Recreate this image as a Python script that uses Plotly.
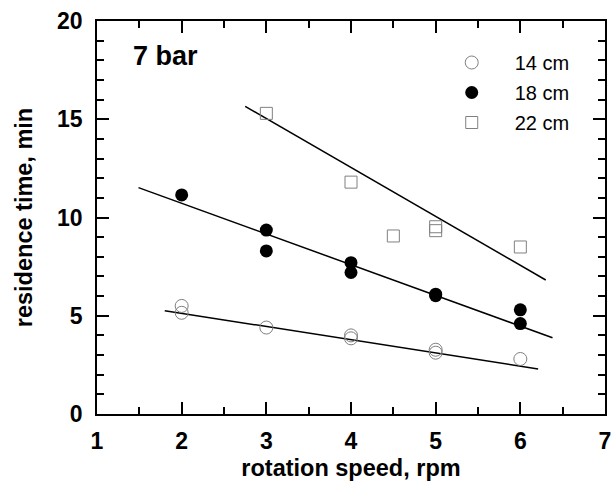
import plotly.graph_objects as go

# Data
x14 = [2, 2, 3, 4, 4, 5, 5, 6]
y14 = [5.5, 5.15, 4.4, 4.0, 3.85, 3.27, 3.12, 2.8]

x18 = [2, 3, 3, 4, 4, 5, 5, 6, 6]
y18 = [11.15, 9.36, 8.3, 7.7, 7.2, 6.1, 6.02, 5.3, 4.6]

x22 = [3, 4, 4.5, 5, 5, 6]
y22 = [15.3, 11.8, 9.06, 9.53, 9.33, 8.5]

fit14_x = [1.8, 6.21]
fit14_y = [5.26, 2.29]
fit18_x = [1.49, 6.38]
fit18_y = [11.52, 3.88]
fit22_x = [2.75, 6.30]
fit22_y = [15.66, 6.82]

series_names = ["14 cm", "18 cm", "22 cm"]
x_ticks = [1, 2, 3, 4, 5, 6, 7]
y_ticks = [0, 5, 10, 15, 20]

FONT = "Liberation Sans, Arial, sans-serif"

fig = go.Figure()

for fx, fy in [(fit14_x, fit14_y), (fit18_x, fit18_y), (fit22_x, fit22_y)]:
    fig.add_trace(go.Scatter(x=fx, y=fy, mode="lines", showlegend=False,
                             line=dict(color="black", width=1.5), hoverinfo="skip"))

fig.add_trace(go.Scatter(x=x14, y=y14, mode="markers", name=series_names[0],
                         legendgroup="a",
                         marker=dict(symbol="circle-open", size=13,
                                     color="#808080", line=dict(width=1))))
fig.add_trace(go.Scatter(x=x18, y=y18, mode="markers", name=series_names[1],
                         legendgroup="b",
                         marker=dict(symbol="circle", size=13, color="black")))
fig.add_trace(go.Scatter(x=x22, y=y22, mode="markers", name=series_names[2],
                         legendgroup="c",
                         marker=dict(symbol="square-open", size=12,
                                     color="#808080", line=dict(width=1))))

axis_common = dict(
    showgrid=False, zeroline=False, showline=True, linecolor="black",
    linewidth=1.5, mirror="allticks", ticks="inside", ticklen=12,
    tickwidth=1.5, tickcolor="black", automargin=False,
    tickfont=dict(family=FONT, size=23, color="black", weight="bold"),
)

fig.update_layout(
    width=613, height=482,
    margin=dict(l=97, r=8, t=21, b=68),
    paper_bgcolor="white", plot_bgcolor="white",
    xaxis=dict(range=[1, 7], tickvals=x_ticks, ticklabelstandoff=6,
               minor=dict(dtick=0.5, ticklen=7, tickwidth=1.5, tickcolor="black", ticks="inside"),
               title=dict(text="rotation speed, rpm", standoff=6,
                          font=dict(family=FONT, size=23.5, color="black", weight="bold")),
               **axis_common),
    yaxis=dict(range=[0, 20], tickvals=y_ticks, ticklabelstandoff=8,
               minor=dict(dtick=1, ticklen=7, tickwidth=1.5, tickcolor="black", ticks="inside"),
               title=dict(text="residence time, min", standoff=18,
                          font=dict(family=FONT, size=23.5, color="black", weight="bold")),
               **axis_common),
    legend=dict(x=0.653, y=0.944, xanchor="left", yanchor="top",
                bgcolor="rgba(0,0,0,0)", traceorder="grouped", tracegroupgap=1,
                itemwidth=76,
                font=dict(family=FONT, size=20, color="black")),
    annotations=[dict(text="7 bar", xref="paper", yref="paper", x=0.066, y=0.911,
                      xanchor="left", yanchor="middle", showarrow=False,
                      font=dict(family=FONT, size=27, color="black", weight="bold"))],
)

fig.write_html("out.html", config={"displayModeBar": False},
               post_script="document.body.style.margin='0';document.body.style.overflow='hidden';")
